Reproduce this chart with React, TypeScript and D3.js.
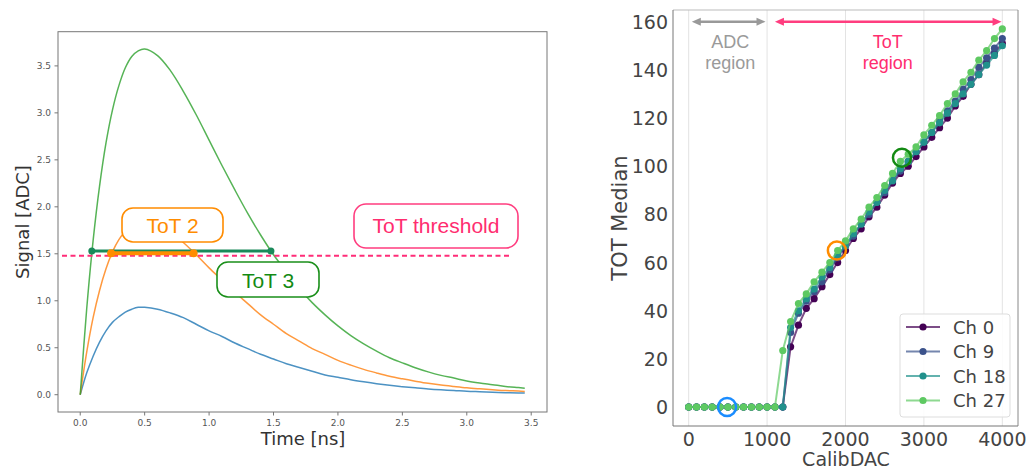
import React from "react";
import * as d3 from "d3";

// ---------- Left panel data ----------
const timeNs = [0, 0.05, 0.1, 0.15, 0.2, 0.25, 0.3, 0.35, 0.4, 0.45, 0.5, 0.6, 0.7, 0.8, 0.9, 1.0, 1.1, 1.2, 1.3, 1.4, 1.5, 1.6, 1.7, 1.8, 1.9, 2.0, 2.1, 2.2, 2.3, 2.4, 2.5, 2.6, 2.7, 2.8, 2.9, 3.0, 3.1, 3.2, 3.3, 3.4, 3.45];
const signalBlue = [0, 0.23, 0.41, 0.56, 0.68, 0.77, 0.83, 0.88, 0.91, 0.93, 0.93, 0.91, 0.87, 0.82, 0.75, 0.68, 0.62, 0.55, 0.49, 0.43, 0.38, 0.33, 0.29, 0.25, 0.21, 0.185, 0.159, 0.137, 0.117, 0.1, 0.086, 0.073, 0.061, 0.052, 0.045, 0.037, 0.032, 0.027, 0.022, 0.019, 0.018];
const signalOrange = [0, 0.45, 0.82, 1.11, 1.34, 1.52, 1.65, 1.74, 1.8, 1.83, 1.84, 1.81, 1.73, 1.62, 1.49, 1.35, 1.22, 1.09, 0.97, 0.85, 0.75, 0.65, 0.57, 0.49, 0.43, 0.366, 0.315, 0.27, 0.232, 0.197, 0.169, 0.144, 0.121, 0.103, 0.088, 0.074, 0.063, 0.053, 0.044, 0.039, 0.035];
const signalGreen = [0, 0.91, 1.64, 2.22, 2.68, 3.03, 3.29, 3.48, 3.6, 3.66, 3.68, 3.61, 3.45, 3.23, 2.98, 2.71, 2.44, 2.18, 1.93, 1.7, 1.49, 1.31, 1.13, 0.98, 0.85, 0.732, 0.629, 0.541, 0.464, 0.394, 0.339, 0.287, 0.243, 0.206, 0.177, 0.147, 0.125, 0.107, 0.088, 0.076, 0.07];
const leftXTicks = [0, 0.5, 1.0, 1.5, 2.0, 2.5, 3.0, 3.5];
const leftYTicks = [0, 0.5, 1.0, 1.5, 2.0, 2.5, 3.0, 3.5];
const thresholdLevel = 1.48;
const tot3Span = [0.09, 1.48];
const tot3Level = 1.53;
const tot2Span = [0.24, 0.88];
const tot2Level = 1.505;

// ---------- Right panel data ----------
const calibDAC = [0, 100, 200, 300, 400, 500, 600, 700, 800, 900, 1000, 1100, 1200, 1300, 1400, 1500, 1600, 1700, 1800, 1900, 2000, 2100, 2200, 2300, 2400, 2500, 2600, 2700, 2800, 2900, 3000, 3100, 3200, 3300, 3400, 3500, 3600, 3700, 3800, 3900, 4000];
const ch0 = [0, 0, 0, 0, 0, 0, 0, 0, 0, 0, 0, 0, 0, 25, 34, 41, 45, 50, 55, 60, 65, 70, 74, 79, 83, 88, 93, 97, 100, 104, 108, 112, 116, 120, 125, 129, 134, 138, 143, 147, 151];
const ch9 = [0, 0, 0, 0, 0, 0, 0, 0, 0, 0, 0, 0, 0, 31, 39, 44, 48, 52, 57, 62, 67, 71, 76, 80, 85, 89, 94, 98, 102, 106, 110, 114, 119, 123, 127, 132, 136, 141, 145, 149, 153];
const ch18 = [0, 0, 0, 0, 0, 0, 0, 0, 0, 0, 0, 0, 0, 33, 40, 45, 49, 54, 58, 63, 67, 72, 76, 81, 85, 90, 94, 99, 102, 106, 110, 114, 118, 122, 126, 130, 134, 138, 142, 146, 150];
const ch27 = [0, 0, 0, 0, 0, 0, 0, 0, 0, 0, 0, 0, 23.5, 35.5, 43, 47, 52, 56, 60, 65, 69, 74, 78, 83, 87, 92, 97, 102, 105, 108, 113, 117, 121, 126, 130, 135, 139, 144, 148, 153, 157];
const channelNames = ["Ch 0", "Ch 9", "Ch 18", "Ch 27"];
const rightXTicks = [0, 1000, 2000, 3000, 4000];
const rightYTicks = [0, 20, 40, 60, 80, 100, 120, 140, 160];
const markerPoints = [
  { dac: 490, tot: 0, color: "#1a8cff" },
  { dac: 1890, tot: 65, color: "#ff8c00" },
  { dac: 2720, tot: 103.5, color: "#138a13" },
];

const MPL = "'DejaVu Sans', sans-serif";
const SANS = "'Liberation Sans', Arial, sans-serif";

function LeftPanel() {
  const x = d3.scaleLinear().domain([-0.1725, 3.6225]).range([58, 547]);
  const y = d3.scaleLinear().domain([-0.184, 3.864]).range([412, 31.7]);
  const line = (vals: number[]) =>
    d3
      .line<number>()
      .x((_, i) => x(timeNs[i]))
      .y((v) => y(v))
      .curve(d3.curveCatmullRom.alpha(0.5))(vals) as string;
  const series = [
    { vals: signalBlue, color: "#1f77b4" },
    { vals: signalOrange, color: "#ff7f0e" },
    { vals: signalGreen, color: "#2ca02c" },
  ];
  return (
    <g>
      {series.map((s, i) => (
        <path key={i} d={line(s.vals)} fill="none" stroke={s.color} strokeOpacity={0.8} strokeWidth={1.5} />
      ))}
      <line x1={62} x2={x(3.33)} y1={y(thresholdLevel)} y2={y(thresholdLevel)} stroke="#ff2d78" strokeWidth={2} strokeDasharray="5,3.5" />
      <line x1={x(tot3Span[0])} x2={x(tot3Span[1])} y1={y(tot3Level)} y2={y(tot3Level)} stroke="#1b8a5a" strokeWidth={3} />
      <circle cx={x(tot3Span[0])} cy={y(tot3Level)} r={3.5} fill="#1b8a5a" />
      <circle cx={x(tot3Span[1])} cy={y(tot3Level)} r={3.5} fill="#1b8a5a" />
      <line x1={x(tot2Span[0])} x2={x(tot2Span[1])} y1={y(tot2Level)} y2={y(tot2Level)} stroke="#ff8c00" strokeWidth={4} />
      <circle cx={x(tot2Span[0])} cy={y(tot2Level)} r={4} fill="#ff8c00" />
      <circle cx={x(tot2Span[1])} cy={y(tot2Level)} r={4} fill="#ff8c00" />
      {/* boxes */}
      <rect x={122} y={208} width={101} height={34} rx={11} fill="#fff" stroke="#ff8c00" strokeWidth={1.6} />
      <text x={172.5} y={233} textAnchor="middle" fontFamily={SANS} fontSize={21} fill="#ff8c00">ToT 2</text>
      <rect x={217} y={262} width={102} height={35} rx={11} fill="#fff" stroke="#1a8f1a" strokeWidth={1.6} />
      <text x={268} y={287.5} textAnchor="middle" fontFamily={SANS} fontSize={21} fill="#138a13">ToT 3</text>
      <rect x={354} y={204} width={164} height={44} rx={12} fill="#fff" stroke="#ff3d7f" strokeWidth={1.6} />
      <text x={436} y={233} textAnchor="middle" fontFamily={SANS} fontSize={21} fill="#ff2d6f">ToT threshold</text>
      {/* frame */}
      <rect x={58} y={31.7} width={489} height={380.3} fill="none" stroke="#777" strokeWidth={1} />
      {leftXTicks.map((t) => (
        <g key={t}>
          <line x1={x(t)} x2={x(t)} y1={412} y2={415.5} stroke="#777" />
          <text x={x(t)} y={426} textAnchor="middle" fontFamily={MPL} fontSize={9} fill="#555">{t.toFixed(1)}</text>
        </g>
      ))}
      {leftYTicks.map((t) => (
        <g key={t}>
          <line x1={54.5} x2={58} y1={y(t)} y2={y(t)} stroke="#777" />
          <text x={51} y={y(t) + 3.2} textAnchor="end" fontFamily={MPL} fontSize={9} fill="#555">{t.toFixed(1)}</text>
        </g>
      ))}
      <text x={303} y={445} textAnchor="middle" fontFamily={MPL} fontSize={18} fill="#333">Time [ns]</text>
      <text transform="translate(29,222) rotate(-90)" textAnchor="middle" fontFamily={MPL} fontSize={18} fill="#333">Signal [ADC]</text>
    </g>
  );
}

function RightPanel() {
  const x = d3.scaleLinear().domain([-200, 4200]).range([673, 1018]);
  const y = d3.scaleLinear().domain([-7.85, 164.85]).range([426, 10]);
  const colors = ["#440154", "#3b528b", "#21918c", "#5ec962"];
  const all = [ch0, ch9, ch18, ch27];
  const line = d3
    .line<number>()
    .x((_, i) => x(calibDAC[i]))
    .y((v) => y(v));
  const arrowY = y(160);
  const head = (tipX: number, dir: number, color: string) => (
    <path d={`M${tipX},${arrowY} L${tipX - dir * 9},${arrowY - 4} L${tipX - dir * 9},${arrowY + 4} Z`} fill={color} />
  );
  const twoLine = (cx: number, l1: string, l2: string, color: string) => (
    <g>
      <text x={cx} y={48} textAnchor="middle" fontFamily={SANS} fontSize={18} fill={color}>{l1}</text>
      <text x={cx} y={69} textAnchor="middle" fontFamily={SANS} fontSize={18} fill={color}>{l2}</text>
    </g>
  );
  return (
    <g>
      {rightXTicks.map((t) => (
        <line key={t} x1={x(t)} x2={x(t)} y1={10} y2={426} stroke="#e3e3e3" strokeWidth={1} />
      ))}
      {all.map((vals, k) => (
        <g key={k}>
          <path d={line(vals) as string} fill="none" stroke={colors[k]} strokeOpacity={0.7} strokeWidth={2} />
          {vals.map((v, i) => (
            <circle key={i} cx={x(calibDAC[i])} cy={y(v)} r={3.6} fill={colors[k]} />
          ))}
        </g>
      ))}
      {markerPoints.map((m, i) => (
        <circle key={i} cx={x(m.dac)} cy={y(m.tot)} r={9} fill="none" stroke={m.color} strokeWidth={2.5} />
      ))}
      {/* region arrows */}
      <line x1={x(40) + 6} x2={x(980) - 6} y1={arrowY} y2={arrowY} stroke="#999" strokeWidth={2.5} />
      {head(x(40), -1, "#999")}
      {head(x(980), 1, "#999")}
      {twoLine(x(530), "ADC", "region", "#9a9a9a")}
      <line x1={x(1100) + 6} x2={x(3990) - 6} y1={arrowY} y2={arrowY} stroke="#ff3d7f" strokeWidth={2.5} />
      {head(x(1100), -1, "#ff3d7f")}
      {head(x(3990), 1, "#ff3d7f")}
      {twoLine(x(2540), "ToT", "region", "#ff2d6f")}
      {/* frame */}
      <line x1={673} x2={1018} y1={10} y2={10} stroke="#bbb" />
      <line x1={1018} x2={1018} y1={10} y2={426} stroke="#888" />
      <line x1={673} x2={673} y1={10} y2={426} stroke="#777" />
      <line x1={673} x2={1018} y1={426} y2={426} stroke="#777" />
      {rightXTicks.map((t) => (
        <text key={t} x={x(t)} y={446} textAnchor="middle" fontFamily={MPL} fontSize={19} fill="#444">{t}</text>
      ))}
      {rightYTicks.map((t) => (
        <text key={t} x={668} y={y(t) + 7} textAnchor="end" fontFamily={MPL} fontSize={19} fill="#444">{t}</text>
      ))}
      <text x={846} y={466} textAnchor="middle" fontFamily={MPL} fontSize={19} fill="#444">CalibDAC</text>
      <text transform="translate(627,218) rotate(-90)" textAnchor="middle" fontFamily={MPL} fontSize={21} fill="#444">TOT Median</text>
      {/* legend */}
      <rect x={900} y={314} width={110} height={103} rx={3} fill="#fff" fillOpacity={0.85} stroke="#ddd" />
      {channelNames.map((n, i) => {
        const ly = 327 + i * 24.5;
        return (
          <g key={n}>
            <line x1={906} x2={940} y1={ly} y2={ly} stroke={colors[i]} strokeOpacity={0.7} strokeWidth={2} />
            <circle cx={923} cy={ly} r={3.6} fill={colors[i]} />
            <text x={953} y={ly + 6.5} fontFamily={MPL} fontSize={18} fill="#444">{n}</text>
          </g>
        );
      })}
    </g>
  );
}

export default function App() {
  return (
    <svg width={1028} height={469} style={{ position: "absolute", left: 0, top: 0, background: "#fff" }}>
      <rect width={1028} height={469} fill="#fff" />
      <LeftPanel />
      <RightPanel />
    </svg>
  );
}
